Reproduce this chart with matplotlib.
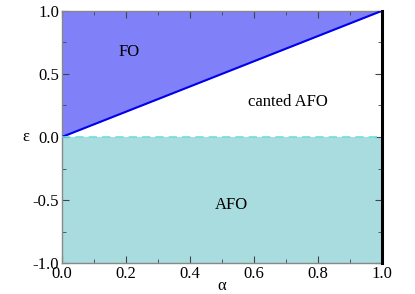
import matplotlib
matplotlib.use("Agg")
import matplotlib.pyplot as plt
import numpy as np
from matplotlib.ticker import MultipleLocator

plt.rcParams['font.family'] = ['Liberation Serif', 'DejaVu Serif']
plt.rcParams['axes.unicode_minus'] = False

# boundary data
alpha_line = [0.0, 1.0]
eps_line = [0.0, 1.0]
xticks = [0.0, 0.2, 0.4, 0.6, 0.8, 1.0]
yticks = [-1.0, -0.5, 0.0, 0.5, 1.0]
labels = ["FO", "canted AFO", "AFO"]
label_pos = [(0.21, 0.67), (0.705, 0.28), (0.53, -0.54)]

fig = plt.figure(figsize=(4.15, 2.94), dpi=100)
ax = fig.add_axes([0.149, 0.105, 0.771, 0.858])
ax.set_xlim(0, 1)
ax.set_ylim(-1, 1)

# FO region
ax.fill_between(alpha_line, eps_line, [1.0, 1.0], color='#8080f8', lw=0)
# AFO region
ax.fill_between([0, 1], [-1, -1], [0, 0], color='#a8dcdf', lw=0)
# boundary
ax.plot(alpha_line, eps_line, color='#0000ee', lw=1.5, zorder=3)
ax.axhline(0.0, color='#6ee0d8', lw=1.2, ls=(0, (5, 3)), zorder=3)
ax.plot([1, 1], [-1, 1], color='black', lw=2.2, zorder=4, clip_on=False)

for t, (x, y) in zip(labels, label_pos):
    ax.text(x, y, t, ha='center', va='center', fontsize=12)

ax.set_xticks(xticks)
ax.set_yticks(yticks)
ax.set_xticklabels([f"{v:.1f}" for v in xticks])
ax.set_yticklabels([f"{v:.1f}" for v in yticks])
ax.xaxis.set_minor_locator(MultipleLocator(0.1))
ax.yaxis.set_minor_locator(MultipleLocator(0.25))
ax.tick_params(which='both', direction='in', top=True, right=True, labelsize=12, pad=2)
ax.tick_params(which='major', length=5, color='#444444')
ax.tick_params(which='minor', length=3, color='#444444')
for s in ax.spines.values():
    s.set_color('#888888')
    s.set_linewidth(1.0)

ax.set_xlabel('α', fontsize=12, labelpad=-3)
ax.set_ylabel('ε', fontsize=12, rotation=0, labelpad=5, va='center')

fig.savefig('out.png', dpi=100)
